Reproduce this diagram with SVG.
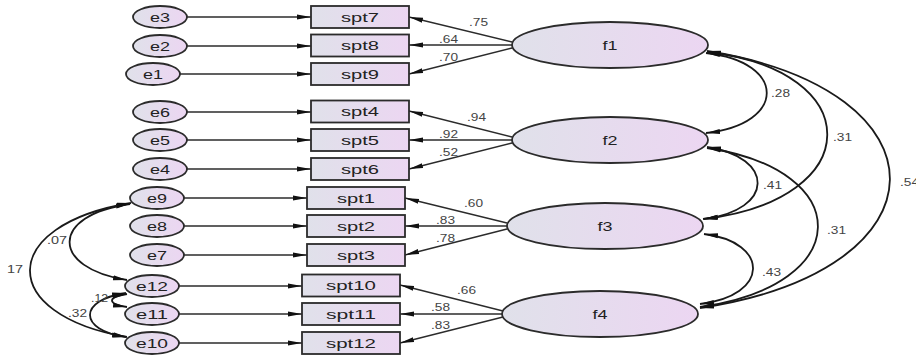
<svg xmlns="http://www.w3.org/2000/svg" width="916" height="359" viewBox="0 0 916 359">
<style>
.nd{stroke:#2b2b2b;stroke-width:1.8;}
.el{fill:url(#g);}
.bx{fill:url(#g);}
.t{font-family:"Liberation Sans",Arial,sans-serif;font-size:13px;fill:#222;text-anchor:middle;dominant-baseline:central;}
.lb{font-family:"Liberation Sans",Arial,sans-serif;font-size:10px;fill:#444;}
.ln{fill:none;stroke:#2b2b2b;stroke-width:1.3;marker-end:url(#ah);}
.cv{fill:none;stroke:#1a1a1a;stroke-width:1.8;marker-start:url(#ah);marker-end:url(#ah);}
</style>
<defs>
<linearGradient id="g" x1="0" y1="0" x2="1" y2="0">
<stop offset="0" stop-color="#e0e1ea"/>
<stop offset="1" stop-color="#ecd6f2"/>
</linearGradient>
<marker id="ah" markerUnits="userSpaceOnUse" markerWidth="16" markerHeight="8" refX="14" refY="4" orient="auto-start-reverse">
<path d="M0,1.5 L14,4 L0,6.5 Z" fill="#111"/>
</marker>
</defs>
<rect width="916" height="359" fill="#fff"/>

<g id="connectors">
<path class="ln" d="M187,17 H311"/>
<path class="ln" d="M187,46 H311"/>
<path class="ln" d="M180,74 H311"/>
<path class="ln" d="M187,112 H311"/>
<path class="ln" d="M187,140 H311"/>
<path class="ln" d="M187,169 H311"/>
<path class="ln" d="M184,198 H307"/>
<path class="ln" d="M184,226 H307"/>
<path class="ln" d="M184,255 H307"/>
<path class="ln" d="M179,286 H302"/>
<path class="ln" d="M179,314 H302"/>
<path class="ln" d="M179,343 H302"/>
<path class="ln" d="M512,42 L409,17"/>
<path class="ln" d="M512,45 L409,45"/>
<path class="ln" d="M512,48 L409,74"/>
<path class="ln" d="M512,137 L409,111"/>
<path class="ln" d="M512,140 L409,140"/>
<path class="ln" d="M512,143 L409,169"/>
<path class="ln" d="M507,223 L405,198"/>
<path class="ln" d="M507,226 L405,226"/>
<path class="ln" d="M507,229 L405,255"/>
<path class="ln" d="M503,311 L400,285"/>
<path class="ln" d="M503,314 L400,314"/>
<path class="ln" d="M503,317 L400,343"/>
<path class="cv" d="M706,53 C787,62 787,124 706,133"/>
<path class="cv" d="M707,52 C868,70 868,200 703,219"/>
<path class="cv" d="M707,51 C952,90 952,270 700,308"/>
<path class="cv" d="M707,147 C775,157 775,210 704,219"/>
<path class="cv" d="M707,148 C856,170 856,285 700,307"/>
<path class="cv" d="M704,234 C770,242 770,296 700,304"/>
<path class="cv" d="M130,204 C50,215 50,268 127,280"/>
<path class="cv" d="M131,203 C-3,225 -3,315 127,337"/>
<path class="cv" d="M126,293 C78,300 78,330 126,337"/>
<path class="cv" d="M127,294 C107,297 107,304 127,307"/>
</g>

<g id="labels">
<text class="lb" x="469" y="26" textLength="19" lengthAdjust="spacingAndGlyphs">.75</text>
<text class="lb" x="439" y="43" textLength="19" lengthAdjust="spacingAndGlyphs">.64</text>
<text class="lb" x="439" y="61" textLength="19" lengthAdjust="spacingAndGlyphs">.70</text>
<text class="lb" x="467" y="121" textLength="19" lengthAdjust="spacingAndGlyphs">.94</text>
<text class="lb" x="439" y="138" textLength="19" lengthAdjust="spacingAndGlyphs">.92</text>
<text class="lb" x="439" y="156" textLength="19" lengthAdjust="spacingAndGlyphs">.52</text>
<text class="lb" x="464" y="207" textLength="19" lengthAdjust="spacingAndGlyphs">.60</text>
<text class="lb" x="436" y="224" textLength="19" lengthAdjust="spacingAndGlyphs">.83</text>
<text class="lb" x="436" y="242" textLength="19" lengthAdjust="spacingAndGlyphs">.78</text>
<text class="lb" x="457" y="294" textLength="19" lengthAdjust="spacingAndGlyphs">.66</text>
<text class="lb" x="431" y="311" textLength="19" lengthAdjust="spacingAndGlyphs">.58</text>
<text class="lb" x="431" y="329" textLength="19" lengthAdjust="spacingAndGlyphs">.83</text>
<text class="lb" x="771" y="97" textLength="19" lengthAdjust="spacingAndGlyphs">.28</text>
<text class="lb" x="833" y="141" textLength="19" lengthAdjust="spacingAndGlyphs">.31</text>
<text class="lb" x="900" y="186" textLength="19" lengthAdjust="spacingAndGlyphs">.54</text>
<text class="lb" x="763" y="189" textLength="19" lengthAdjust="spacingAndGlyphs">.41</text>
<text class="lb" x="827" y="234" textLength="19" lengthAdjust="spacingAndGlyphs">.31</text>
<text class="lb" x="762" y="276" textLength="19" lengthAdjust="spacingAndGlyphs">.43</text>
<text class="lb" x="47" y="244" textLength="20" lengthAdjust="spacingAndGlyphs">.07</text>
<text class="lb" x="7" y="273" textLength="16" lengthAdjust="spacingAndGlyphs">17</text>
<text class="lb" x="68" y="317" textLength="19" lengthAdjust="spacingAndGlyphs">.32</text>
<text class="lb" x="91" y="302" textLength="17" lengthAdjust="spacingAndGlyphs">.12</text>
</g>

<g id="e3"><ellipse class="nd el" cx="160" cy="17" rx="27" ry="11"/><text class="t" x="160" y="17" textLength="20" lengthAdjust="spacingAndGlyphs">e3</text></g>
<g id="e2"><ellipse class="nd el" cx="160" cy="46" rx="27" ry="11"/><text class="t" x="160" y="46" textLength="20" lengthAdjust="spacingAndGlyphs">e2</text></g>
<g id="e1"><ellipse class="nd el" cx="153" cy="74" rx="27" ry="11"/><text class="t" x="153" y="74" textLength="20" lengthAdjust="spacingAndGlyphs">e1</text></g>
<g id="e6"><ellipse class="nd el" cx="160" cy="112" rx="27" ry="11"/><text class="t" x="160" y="112" textLength="20" lengthAdjust="spacingAndGlyphs">e6</text></g>
<g id="e5"><ellipse class="nd el" cx="160" cy="140" rx="27" ry="11"/><text class="t" x="160" y="140" textLength="20" lengthAdjust="spacingAndGlyphs">e5</text></g>
<g id="e4"><ellipse class="nd el" cx="160" cy="169" rx="27" ry="11"/><text class="t" x="160" y="169" textLength="20" lengthAdjust="spacingAndGlyphs">e4</text></g>
<g id="e9"><ellipse class="nd el" cx="157" cy="198" rx="27" ry="11"/><text class="t" x="157" y="198" textLength="20" lengthAdjust="spacingAndGlyphs">e9</text></g>
<g id="e8"><ellipse class="nd el" cx="157" cy="226" rx="27" ry="11"/><text class="t" x="157" y="226" textLength="20" lengthAdjust="spacingAndGlyphs">e8</text></g>
<g id="e7"><ellipse class="nd el" cx="157" cy="255" rx="27" ry="11"/><text class="t" x="157" y="255" textLength="20" lengthAdjust="spacingAndGlyphs">e7</text></g>
<g id="e12"><ellipse class="nd el" cx="152" cy="286" rx="27" ry="11"/><text class="t" x="152" y="286" textLength="32" lengthAdjust="spacingAndGlyphs">e12</text></g>
<g id="e11"><ellipse class="nd el" cx="152" cy="314" rx="27" ry="11"/><text class="t" x="152" y="314" textLength="32" lengthAdjust="spacingAndGlyphs">e11</text></g>
<g id="e10"><ellipse class="nd el" cx="152" cy="343" rx="27" ry="11"/><text class="t" x="152" y="343" textLength="32" lengthAdjust="spacingAndGlyphs">e10</text></g>

<g id="spt7"><rect class="nd bx" x="311" y="6" width="98" height="22"/><text class="t" x="360" y="17" textLength="38" lengthAdjust="spacingAndGlyphs">spt7</text></g>
<g id="spt8"><rect class="nd bx" x="311" y="34.5" width="98" height="22"/><text class="t" x="360" y="45.5" textLength="38" lengthAdjust="spacingAndGlyphs">spt8</text></g>
<g id="spt9"><rect class="nd bx" x="311" y="63" width="98" height="22"/><text class="t" x="360" y="74" textLength="38" lengthAdjust="spacingAndGlyphs">spt9</text></g>
<g id="spt4"><rect class="nd bx" x="311" y="100.5" width="98" height="22"/><text class="t" x="360" y="111.5" textLength="38" lengthAdjust="spacingAndGlyphs">spt4</text></g>
<g id="spt5"><rect class="nd bx" x="311" y="129" width="98" height="22"/><text class="t" x="360" y="140" textLength="38" lengthAdjust="spacingAndGlyphs">spt5</text></g>
<g id="spt6"><rect class="nd bx" x="311" y="158" width="98" height="22"/><text class="t" x="360" y="169" textLength="38" lengthAdjust="spacingAndGlyphs">spt6</text></g>
<g id="spt1"><rect class="nd bx" x="307" y="187" width="98" height="22"/><text class="t" x="356" y="198" textLength="38" lengthAdjust="spacingAndGlyphs">spt1</text></g>
<g id="spt2"><rect class="nd bx" x="307" y="215" width="98" height="22"/><text class="t" x="356" y="226" textLength="38" lengthAdjust="spacingAndGlyphs">spt2</text></g>
<g id="spt3"><rect class="nd bx" x="307" y="244" width="98" height="22"/><text class="t" x="356" y="255" textLength="38" lengthAdjust="spacingAndGlyphs">spt3</text></g>
<g id="spt10"><rect class="nd bx" x="302" y="274.5" width="98" height="22"/><text class="t" x="351" y="285.5" textLength="50" lengthAdjust="spacingAndGlyphs">spt10</text></g>
<g id="spt11"><rect class="nd bx" x="302" y="303" width="98" height="22"/><text class="t" x="351" y="314" textLength="50" lengthAdjust="spacingAndGlyphs">spt11</text></g>
<g id="spt12"><rect class="nd bx" x="302" y="332" width="98" height="22"/><text class="t" x="351" y="343" textLength="50" lengthAdjust="spacingAndGlyphs">spt12</text></g>

<g id="f1"><ellipse class="nd el" cx="610" cy="45" rx="98" ry="23"/><text class="t" x="610" y="45" textLength="15" lengthAdjust="spacingAndGlyphs">f1</text></g>
<g id="f2"><ellipse class="nd el" cx="610" cy="140" rx="98" ry="23"/><text class="t" x="610" y="140" textLength="15" lengthAdjust="spacingAndGlyphs">f2</text></g>
<g id="f3"><ellipse class="nd el" cx="605" cy="226" rx="98" ry="23"/><text class="t" x="605" y="226" textLength="15" lengthAdjust="spacingAndGlyphs">f3</text></g>
<g id="f4"><ellipse class="nd el" cx="600" cy="314" rx="98" ry="23"/><text class="t" x="600" y="314" textLength="15" lengthAdjust="spacingAndGlyphs">f4</text></g>
</svg>
